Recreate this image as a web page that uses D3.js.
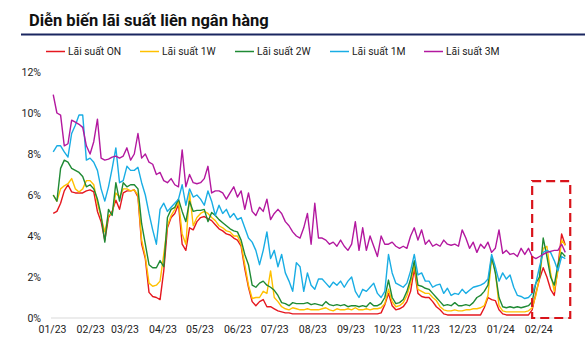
<!DOCTYPE html>
<html><head><meta charset="utf-8">
<script src="https://cdn.jsdelivr.net/npm/d3@7"></script>
<style>
html,body{margin:0;padding:0;background:#fff;}
svg{display:block;font-family:Roboto,"Noto Sans",Arial,sans-serif;}
</style></head>
<body><svg id="chart" width="585" height="350"></svg>
<script>
const title = "Diễn biến lãi suất liên ngân hàng";
const seriesNames = ["Lãi suất ON","Lãi suất 1W","Lãi suất 2W","Lãi suất 1M","Lãi suất 3M"];
const seriesColors = ["#e5171f","#ffc000","#1f8a34","#19ade4","#b3189f"];
const yTicks = [0,2,4,6,8,10,12];
const monthTicks = ["01/23","02/23","03/23","04/23","05/23","06/23","07/23","08/23","09/23","10/23","11/23","12/23","01/24","02/24"];
// observation dates: every 3rd day from 2 Jan 2023
const dates = d3.timeDay.range(new Date(2023,0,2), new Date(2024,1,27), 3).slice(0,140);

const rateON = [
5.1,5.2,5.6,6.2,6.5,6.15,6.1,6.1,6.1,6.2,
6.25,6.15,5.2,4.7,3.8,4.9,5.2,5.75,5.3,6.1,
6.2,6.2,6.25,5.9,3.6,2.9,1.25,1.05,1.0,0.9,
2.3,4.4,4.9,5.1,5.55,3.6,3.3,4.4,4.3,4.7,
4.9,4.95,4.85,4.75,4.55,4.35,4.25,4.1,4.05,3.9,
3.8,3.5,2.4,1.5,0.8,0.6,0.8,0.9,0.55,0.55,
0.45,0.35,0.3,0.25,0.25,0.2,0.2,0.2,0.2,0.2,
0.2,0.2,0.2,0.2,0.2,0.2,0.2,0.2,0.2,0.2,
0.2,0.2,0.2,0.2,0.2,0.2,0.2,0.2,0.2,0.25,
0.65,1.2,0.6,0.4,0.45,0.55,0.8,1.3,2.4,1.2,
1.05,1.0,1.0,0.8,0.55,0.4,0.2,0.15,0.15,0.15,
0.15,0.15,0.15,0.15,0.15,0.15,0.15,0.5,1.0,0.9,
0.85,0.4,0.2,0.15,0.15,0.15,0.15,0.15,0.15,0.15,
0.4,1.2,1.9,2.45,2.0,1.4,1.1,2.5,4.1,3.55];

const rate1W = [
6.0,5.7,6.3,6.45,6.55,6.8,6.3,6.15,6.3,6.7,
6.7,6.5,5.6,4.9,4.2,5.0,5.1,6.1,5.9,6.3,
6.3,6.2,6.25,6.0,3.8,3.0,1.7,1.55,1.6,1.8,
3.1,4.5,5.0,5.3,5.7,4.1,3.6,6.1,4.5,4.9,
5.1,5.2,5.1,4.9,4.75,4.5,4.4,4.25,4.2,4.0,
4.0,3.6,2.6,1.6,0.95,1.0,1.0,1.3,1.2,2.3,
1.0,0.8,0.55,0.45,0.4,0.5,0.45,0.4,0.4,0.45,
0.4,0.4,0.4,0.45,0.5,0.4,0.35,0.45,0.4,0.4,
0.45,0.4,0.5,0.4,0.4,0.45,0.4,0.45,0.45,0.5,
0.7,1.4,0.8,0.55,0.6,0.75,1.1,1.7,2.6,1.4,
1.3,1.2,1.2,1.0,0.85,0.55,0.4,0.35,0.35,0.4,
0.35,0.35,0.4,0.4,0.45,0.45,0.5,0.6,1.1,2.9,
2.3,0.6,0.35,0.3,0.3,0.3,0.3,0.3,0.3,0.35,
0.5,1.1,2.0,3.4,3.5,2.2,1.3,2.3,3.8,3.55];

const rate2W = [
6.0,5.7,7.3,7.7,7.6,7.3,7.2,7.1,6.9,6.4,
6.5,6.3,5.8,5.0,3.7,5.3,5.0,6.6,5.7,6.6,
6.4,6.5,6.5,6.3,4.6,3.6,2.6,2.45,2.45,2.8,
2.5,4.9,5.3,5.4,5.8,5.2,4.7,5.7,5.2,5.25,
5.25,5.3,4.7,5.15,5.0,4.8,4.65,4.5,4.35,4.25,
4.2,3.8,3.1,2.6,1.6,1.5,1.7,1.8,1.6,1.5,
1.35,1.1,0.75,0.7,0.6,0.75,0.7,0.7,0.7,0.75,
0.65,0.7,0.65,0.6,0.8,0.65,0.6,0.65,0.6,0.65,
0.55,0.6,0.6,0.55,0.6,0.55,0.75,0.6,0.6,0.7,
1.0,1.85,1.0,0.7,0.75,0.9,1.3,1.9,2.8,1.6,
1.55,1.45,1.4,1.2,1.0,0.8,0.6,0.65,0.6,0.75,
0.6,0.6,0.65,0.6,0.75,1.0,1.1,1.3,1.6,3.0,
2.2,1.0,0.55,0.5,0.55,0.5,0.55,0.5,0.55,0.6,
0.8,1.7,2.0,3.9,3.0,2.0,1.6,2.6,3.2,3.0];

const rate1M = [
8.1,8.4,8.4,8.1,7.85,9.0,9.4,9.9,9.9,7.7,
7.8,7.6,7.2,6.3,5.7,6.4,7.3,8.3,6.6,6.7,
7.4,7.2,7.2,7.35,6.6,6.0,5.1,4.3,3.6,5.3,
5.6,5.2,5.4,5.6,5.8,6.5,5.5,6.3,5.9,6.0,
5.8,5.5,6.2,5.7,5.0,5.5,5.1,5.3,4.9,5.1,
4.8,4.9,4.4,3.9,3.7,3.3,2.6,3.3,4.2,2.9,
3.3,2.5,3.1,2.2,1.8,1.3,2.7,2.5,1.3,2.2,
1.6,1.4,1.9,1.9,1.7,1.5,1.75,1.6,1.8,1.5,
1.8,2.0,1.3,1.0,1.4,1.3,1.5,1.7,1.2,1.0,
1.3,3.1,2.2,1.7,1.6,1.5,1.7,2.3,3.1,2.1,
2.2,1.8,1.8,1.5,1.6,1.65,1.2,1.45,1.1,1.2,
1.15,1.4,1.2,1.35,1.5,1.55,1.6,1.7,1.9,3.1,
2.5,1.8,2.2,1.9,2.1,1.5,1.1,1.05,0.95,1.0,
1.2,1.7,2.5,3.2,3.3,3.2,2.8,2.3,3.0,2.9];

const rate3M = [
10.9,10.0,9.9,8.4,8.5,9.65,9.55,9.45,9.3,8.4,
8.0,8.6,9.7,7.8,7.7,7.75,7.85,7.9,7.8,7.9,
8.3,7.7,8.0,9.0,7.8,8.0,7.6,7.5,7.0,7.1,
6.7,6.6,6.8,6.5,6.4,8.2,6.4,7.0,6.6,6.55,
6.6,6.8,7.4,6.1,6.2,6.2,6.1,5.8,6.1,6.4,
5.9,6.2,5.3,6.1,5.2,5.0,5.4,5.2,5.8,4.8,
5.1,5.3,5.1,4.7,4.5,4.2,4.0,3.9,4.4,5.1,
3.6,5.6,3.9,3.9,3.8,3.6,3.7,3.5,3.8,3.5,
3.3,3.6,4.7,3.3,4.4,3.3,4.0,3.5,3.0,4.0,
3.6,3.6,3.7,3.5,3.4,3.5,3.4,4.0,4.4,3.8,
4.3,3.6,3.8,3.5,3.6,3.5,3.8,3.6,3.55,3.6,
3.5,4.3,3.9,3.4,3.7,3.2,3.6,3.4,3.7,3.2,
3.4,4.3,3.15,3.3,3.1,3.15,3.0,3.4,3.1,3.4,
3.0,2.9,3.0,3.1,3.2,3.25,3.3,3.3,3.6,3.2];

const seriesValues = [rateON, rate1W, rate2W, rate1M, rate3M];
// highlighted window (dashed box), in data units
const boxDates = [new Date(2024,0,27), new Date(2024,1,27)];
const boxRange = [0, 6.68];

const svg = d3.select("#chart");
const x = d3.scaleTime().domain([new Date(2023,0,1), new Date(2024,1,1)]).range([52, 538.3]);
const y = d3.scaleLinear().domain([0,12]).range([318, 72]);

// Title
svg.append("text").attr("x",29).attr("y",26).attr("font-size","16.5px").attr("font-weight","bold")
  .attr("fill","#111").text(title);
svg.append("line").attr("x1",21).attr("x2",585).attr("y1",34.5).attr("y2",34.5)
  .attr("stroke","#1a2660").attr("stroke-width",2);

// Legend
const legX = [46,140,235,330,424];
seriesNames.forEach((n,i)=>{
  const g = svg.append("g");
  g.append("line").attr("x1",legX[i]).attr("x2",legX[i]+19).attr("y1",51.5).attr("y2",51.5)
    .attr("stroke",seriesColors[i]).attr("stroke-width",1.5);
  g.append("text").attr("x",legX[i]+22).attr("y",55.3).attr("font-size","10.3px").attr("fill","#222").text(n);
});

// Y axis labels
const yAxis = d3.axisLeft(y).tickValues(yTicks).tickFormat(d=>d+"%").tickSize(0).tickPadding(0);
const yg = svg.append("g").attr("transform","translate(41,0)").call(yAxis);
yg.select(".domain").remove();
yg.selectAll("text").attr("font-size","10.5px").attr("fill","#222").attr("font-family","Roboto");

// baseline
svg.append("line").attr("x1",51).attr("x2",571).attr("y1",y(0)).attr("y2",y(0))
  .attr("stroke","#d9d9d9").attr("stroke-width",1.2);

// X axis labels
const monthDates = monthTicks.map(s=>{const [m,yy]=s.split("/"); return new Date(2000+ +yy, +m-1, 1);});
const xAxis = d3.axisBottom(x).tickValues(monthDates).tickFormat((d,i)=>monthTicks[i]).tickSize(0).tickPadding(0);
const xg = svg.append("g").attr("transform","translate(0,326)").call(xAxis);
xg.select(".domain").remove();
xg.selectAll("text").attr("font-size","10.5px").attr("fill","#222").attr("font-family","Roboto");

// Lines
const line = d3.line().x((d,i)=>x(dates[i])).y(d=>y(d));
seriesValues.forEach((vals,i)=>{
  svg.append("path").datum(vals).attr("d",line).attr("fill","none")
    .attr("stroke",seriesColors[i]).attr("stroke-width",1.4).attr("stroke-linejoin","round");
});

// Dashed highlight box
svg.append("rect").attr("x",x(boxDates[0])).attr("y",y(boxRange[1]))
  .attr("width",x(boxDates[1])-x(boxDates[0])).attr("height",y(boxRange[0])-y(boxRange[1]))
  .attr("fill","none").attr("stroke","#d9141b").attr("stroke-width",2.2).attr("stroke-dasharray","9,5");
</script></body></html>
